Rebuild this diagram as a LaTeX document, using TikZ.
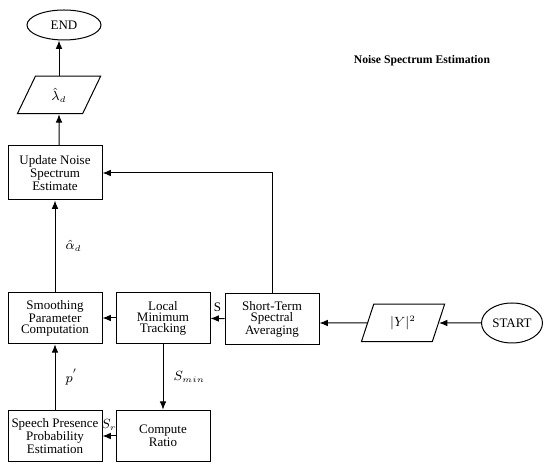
\documentclass[tikz,border=0pt]{standalone}
\usepackage{fontspec}
\setmainfont{Liberation Serif}
\usetikzlibrary{shapes.geometric,arrows.meta}
\tikzset{
    txt/.style={font=\fontsize{7.8}{6.6}\selectfont, align=center},
    blk/.style={draw, txt, rectangle, minimum width=56.4pt, minimum height=31pt, inner sep=1pt},
    para/.style={draw, txt, trapezium, trapezium left angle=68, trapezium right angle=112, trapezium stretches=true, minimum width=50pt, minimum height=22.5pt, inner sep=0pt},
    term/.style={draw, txt, ellipse, inner sep=0pt},
    arr/.style={-{Latex[length=5pt,width=4pt]}},
    lbl/.style={font=\fontsize{7.8}{9}\selectfont, inner sep=1pt}
}
\begin{document}
\begin{tikzpicture}[x=0.6pt, y=-0.6pt, line width=0.6pt]
    \useasboundingbox (0,0) rectangle (550,468);

    %terminals and data
    \node[term, minimum width=44.4pt, minimum height=18pt] (end) at (64,25) {END};
    \node[para] (lam) at (59,95) {$\hat{\lambda}_d$};
    \node[term, minimum width=36.6pt, minimum height=24pt] (start) at (512,323) {START};
    \node[para] (ysq) at (403,323) {$|Y|^2$};

    %blocks
    \node[blk, minimum height=32.4pt] (upd) at (55,173) {Update Noise\\Spectrum\\Estimate};
    \node[blk] (smo) at (55,318) {Smoothing\\Parameter\\Computation};
    \node[blk] (loc) at (163,318) {Local\\Minimum\\Tracking};
    \node[blk] (sta) at (272,319) {Short-Term\\Spectral\\Averaging};
    \node[blk] (spe) at (55,436) {Speech Presence\\Probability\\Estimation};
    \node[blk] (cmp) at (163,436) {Compute\\Ratio};

    \node[font=\fontsize{7}{8}\selectfont\bfseries] (title) at (422,61) {Noise Spectrum Estimation};

    %arrows
    \draw[arr] (start) -- (ysq);
    \draw[arr] (ysq) -- (ysq -| sta.east);
    \draw[arr] (sta) -- (loc) node[lbl, midway, above=3pt] {S};
    \draw[arr] (loc) -- (smo);
    \draw[arr] (loc) -- (cmp) node[lbl, midway, right=5pt] {$S_{min}$};
    \draw[arr] (cmp) -- (spe) node[lbl, midway, above=2pt] {$S_r$};
    \draw[arr] (spe) -- (smo) node[lbl, midway, right=5pt] {$p^{'}$};
    \draw[arr] (smo) -- (upd) node[lbl, midway, right=5pt] {$\hat{\alpha}_d$};
    \draw[arr] (sta.north) |- (upd.east);
    \draw[arr] (upd.north -| lam) -- (lam.south);
    \draw[arr] (lam.north) -- (lam.north |- end.south);
\end{tikzpicture}
\end{document}
